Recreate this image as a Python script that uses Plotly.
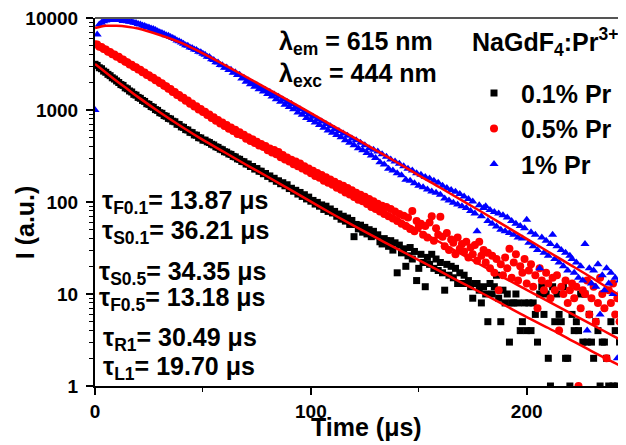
import plotly.graph_objects as go

# ---------------- data ----------------
time_us = list(range(247))  # 1 us sampling, 0..246 us

i_01 = [3140, 3050, 2880, 2810, 2650, 2570, 2440, 2360, 2240, 2170, 2070,
        1990, 1890, 1850, 1740, 1700, 1610, 1570, 1480, 1450, 1370,
        1340, 1270, 1240, 1170, 1150, 1090, 1070, 1010, 990, 935,
        920, 870, 855, 810, 800, 755, 745, 700, 695, 655,
        648, 612, 606, 572, 568, 536, 532, 500, 497, 470,
        470, 451, 443, 424, 417, 398, 392, 375, 370, 352,
        348, 333, 329, 313, 309, 294, 291, 276, 274, 259,
        258, 243, 243, 228, 231, 216, 216, 203, 204, 190,
        192, 179, 181, 168, 170, 158, 162, 150, 154, 140,
        141, 131, 134, 122, 127, 115, 120, 108, 113, 102,
        104, 95, 99, 90, 93, 83, 90, 79, 84, 76,
        79, 70, 74, 65, 70, 62, 67, 57, 63, 42,
        57, 51, 56, 47, 53, 45, 50, 42, 48, 43,
        44, 37, 35, 40, 38, 33, 38, 30, 36, 17,
        34, 28, 31, 20, 26, 32, 24, 29, 14, 19,
        27, 22, 12, 25, 21, 27, 19, 24, 18, 22,
        17, 11, 21, 16, 20, 15, 19, 13, 17, 13,
        16, 13, 14, 12, 9, 13, 13, 11, 8, 12,
        10, 5, 13, 10, 12, 16, 9, 5, 11, 8,
        10, 3, 8, 8, 10, 8, 4, 5, 8, 4,
        8, 4, 8, 6, 3, 10, 12, 6, 10, 2,
        1, 12, 5, 10, 6, 5, 12, 2, 2, 1,
        6, 4, 5, 4, 10, 3, 10, 3, 6, 3,
        2, 5, 4, 1, 3, 3, 2, 1, 5, 1,
        4, 1, 3, 4, 1, 2]

i_05 = [5200, 5150, 4880, 4830, 4590, 4540, 4300, 4270, 4040, 4010, 3800,
        3780, 3560, 3530, 3340, 3310, 3130, 3110, 2940, 2910, 2760,
        2730, 2570, 2560, 2400, 2390, 2250, 2240, 2100, 2090, 1970,
        1950, 1830, 1810, 1700, 1690, 1570, 1570, 1460, 1460, 1360,
        1360, 1260, 1270, 1170, 1180, 1090, 1100, 1010, 1025, 950,
        955, 880, 895, 820, 835, 765, 780, 715, 730, 670,
        685, 625, 645, 590, 610, 550, 572, 533, 538, 488,
        505, 460, 480, 437, 452, 410, 428, 395, 405, 366,
        382, 345, 368, 330, 350, 306, 325, 290, 305, 275,
        288, 258, 276, 244, 262, 232, 245, 218, 232, 205,
        218, 192, 206, 184, 196, 170, 186, 162, 176, 154,
        166, 143, 157, 136, 150, 127, 142, 121, 134, 113,
        126, 106, 120, 102, 114, 95, 108, 88, 102, 84,
        96, 79, 91, 74, 88, 70, 84, 66, 79, 62,
        74, 58, 71, 55, 68, 51, 80, 48, 62, 54,
        58, 44, 55, 41, 60, 70, 38, 52, 44, 69,
        42, 33, 46, 30, 39, 36, 27, 41, 31, 35,
        29, 37, 25, 32, 27, 34, 23, 37, 26, 30,
        22, 28, 19, 26, 17, 24, 11, 21, 16, 25,
        19, 31, 15, 22, 27, 14, 20, 17, 24, 13,
        18, 21, 12, 16, 7, 19, 14, 11, 17, 13,
        9, 15, 11, 16, 4, 12, 10, 14, 8, 11,
        13, 9, 12, 1, 7, 11, 10, 14, 6, 9,
        12, 5, 8, 15, 10, 7, 2, 11, 8, 13,
        6, 9, 5, 10, 7, 12]

i_1 = [1000, 6600, 8500, 8900, 9200, 9400, 9600, 9500, 9700, 9600, 9600,
       9500, 9500, 9300, 9400, 9200, 9100, 9100, 8900, 8800, 8600,
       8500, 8300, 8200, 8000, 7900, 7700, 7600, 7400, 7200, 7000,
       6850, 6700, 6500, 6400, 6200, 6050, 5900, 5700, 5600, 5400,
       5250, 5060, 4980, 4790, 4730, 4540, 4480, 4300, 4250, 4080,
       3990, 3800, 3760, 3560, 3500, 3310, 3280, 3090, 3070, 2880,
       2900, 2720, 2740, 2540, 2580, 2400, 2420, 2200, 2240, 2030,
       2090, 1900, 1970, 1790, 1860, 1680, 1750, 1590, 1650, 1490,
       1570, 1400, 1470, 1310, 1390, 1230, 1300, 1140, 1220, 1080,
       1160, 1020, 1080, 940, 1020, 890, 950, 820, 890, 780,
       845, 730, 790, 685, 750, 640, 705, 600, 665, 565,
       620, 535, 590, 505, 555, 470, 525, 440, 490, 415,
       470, 385, 440, 365, 415, 340, 385, 320, 370, 300,
       355, 270, 330, 255, 310, 230, 290, 220, 275, 205,
       260, 195, 245, 175, 230, 170, 220, 160, 205, 150,
       198, 145, 187, 137, 180, 130, 170, 126, 162, 120,
       150, 109, 142, 104, 135, 98, 129, 94, 122, 90,
       115, 86, 108, 80, 101, 75, 48, 92, 70, 86,
       90, 62, 82, 58, 78, 54, 75, 50, 72, 48,
       68, 46, 62, 44, 58, 41, 55, 40, 52, 64,
       36, 47, 33, 44, 30, 19, 41, 28, 38, 26,
       35, 44, 24, 33, 22, 30, 20, 28, 18, 26,
       24, 17, 22, 15, 20, 14, 35, 4, 19, 13,
       18, 12, 21, 6, 16, 11, 19, 13, 17, 10,
       15, 2, 14, 11, 26, 13]

fit_time_us = [0, 5, 10, 15, 20, 30, 40, 50, 60, 70, 80, 90, 100, 110, 120,
               130, 140, 150, 160, 170, 180, 190, 200, 210, 220, 230, 240, 246]
fit_01 = [3162, 2556, 2065, 1689, 1380, 944, 661, 473, 347, 254, 188, 138, 101,
          74.1, 55.0, 41.2, 30.9, 23.4, 17.6, 13.2, 10.0, 7.50, 5.62, 4.27,
          3.20, 2.40, 1.82, 1.55]
fit_05 = [5248, 4493, 3846, 3274, 2786, 1995, 1380, 966, 684, 501, 376, 282,
          211, 158, 119, 89.1, 66.1, 49.0, 36.3, 26.9, 19.95, 14.8, 11.1, 8.32,
          6.24, 4.68, 3.51, 2.95]
fit_1 = [7762, 8222, 8222, 8035, 7674, 6531, 5370, 4121, 3090, 2291, 1698,
         1259, 923, 676, 501, 367, 269, 195, 143, 104, 75.9, 55.0, 39.8, 28.8,
         20.9, 15.1, 10.7, 8.81]

series_names = ["0.1% Pr", "0.5% Pr", "1% Pr"]
y_tick_vals = [1, 10, 100, 1000, 10000]
y_tick_text = ["1", "10", "100", "1000", "10000"]
x_tick_vals = [0, 100, 200]
x_tick_text = ["0", "100", "200"]

tau_labels = [
    ("F0.1", "13.87"), ("S0.1", "36.21"), ("S0.5", "34.35"),
    ("F0.5", "13.18"), ("R1", "30.49"), ("L1", "19.70"),
]

# ---------------- figure ----------------
FONT = "Liberation Sans, Arial, sans-serif"
PAGE_OFF = 8                     # default body margin of the page
W, H = 626 - PAGE_OFF, 445 - PAGE_OFF
PLOT_L, PLOT_R, PLOT_T, PLOT_B = 95, 626, 13, 386   # page pixels
L = PLOT_L - PAGE_OFF
T = PLOT_T - PAGE_OFF
R = 626 - PLOT_R
B = 445 - PLOT_B
PW, PH = PLOT_R - PLOT_L, PLOT_B - PLOT_T


def px(xp):
    return (xp - PLOT_L) / PW


def py(yp):
    return (PLOT_B - yp) / PH


fig = go.Figure()
fig.add_trace(go.Scatter(x=time_us, y=i_01, mode="markers", name=series_names[0],
                         marker=dict(symbol="square", size=7, color="#000000")))
fig.add_trace(go.Scatter(x=time_us, y=i_05, mode="markers", name=series_names[1],
                         marker=dict(symbol="circle", size=8, color="#FF0000")))
fig.add_trace(go.Scatter(x=time_us, y=i_1, mode="markers", name=series_names[2],
                         marker=dict(symbol="triangle-up", size=8, color="#0000FF")))
for fy in (fit_01, fit_05, fit_1):
    fig.add_trace(go.Scatter(x=fit_time_us, y=fy, mode="lines", showlegend=False,
                             line=dict(color="#FF0000", width=2.5, shape="spline")))

minor_y = [m * 10 ** e for e in range(4) for m in range(2, 10)]

fig.update_layout(
    width=W, height=H,
    margin=dict(l=L, r=R, t=T, b=B),
    paper_bgcolor="white", plot_bgcolor="white",
    font=dict(family=FONT, size=25, color="black", weight="bold"),
    showlegend=True,
    legend=dict(x=px(467), y=py(66), xanchor="left", yanchor="top",
                itemwidth=44,
                bgcolor="rgba(0,0,0,0)", borderwidth=0, tracegroupgap=0,
                font=dict(family=FONT, size=25, color="black", weight="bold")),
    xaxis=dict(range=[0, 246], tickmode="array", tickvals=x_tick_vals,
               ticktext=x_tick_text, ticks="outside", ticklen=7, tickwidth=1.5,
               tickcolor="black", showline=True, linecolor="black", linewidth=2,
               showgrid=False, zeroline=False,
               tickfont=dict(family=FONT, size=19, color="black", weight="bold"),
               minor=dict(tickmode="array", tickvals=[50, 150], ticks="outside",
                          ticklen=4, tickwidth=1.2, tickcolor="black", showgrid=False)),
    yaxis=dict(type="log", range=[0, 4], tickmode="array", tickvals=y_tick_vals,
               ticktext=y_tick_text, ticks="outside", ticklen=7, tickwidth=1.5,
               tickcolor="black", showline=True, linecolor="black", linewidth=2,
               showgrid=False, zeroline=False, ticklabelstandoff=4,
               ticklabeloverflow="allow",
               tickfont=dict(family=FONT, size=19, color="black", weight="bold"),
               minor=dict(tickmode="array", tickvals=minor_y, ticks="outside",
                          ticklen=4, tickwidth=1.2, tickcolor="black", showgrid=False)),
)

# top frame line
fig.add_shape(type="line", xref="paper", yref="paper", x0=0, x1=1, y0=1, y1=1,
              line=dict(color="#555555", width=2))

ann = []
tau_pos = [(100, 200), (100, 229.5), (97, 271), (97, 298), (101, 338), (101, 368)]
for (sub, val), (xp, yp) in zip(tau_labels, tau_pos):
    ann.append(dict(text=f"τ<sub>{sub}</sub>= {val} μs", x=px(xp), y=py(yp),
                    xanchor="left", yanchor="middle"))
ann.append(dict(text="λ<sub>em</sub> = 615 nm", x=px(277), y=py(38),
                xanchor="left", yanchor="middle"))
ann.append(dict(text="λ<sub>exc</sub> = 444 nm", x=px(277), y=py(71),
                xanchor="left", yanchor="middle"))
ann.append(dict(text="NaGdF<sub>4</sub>:Pr<sup>3+</sup>", x=px(470), y=py(37),
                xanchor="left", yanchor="middle"))
ann.append(dict(text="Time (μs)", x=px(366), y=py(428), xanchor="center",
                yanchor="middle"))
ann.append(dict(text="I (a.u.)", x=px(25), y=py(220), xanchor="center",
                yanchor="middle", textangle=-90))
for a in ann:
    a.update(xref="paper", yref="paper", showarrow=False,
             font=dict(family=FONT, size=25, color="black", weight="bold"))
fig.update_layout(annotations=ann)

fig.write_html("out.html")
